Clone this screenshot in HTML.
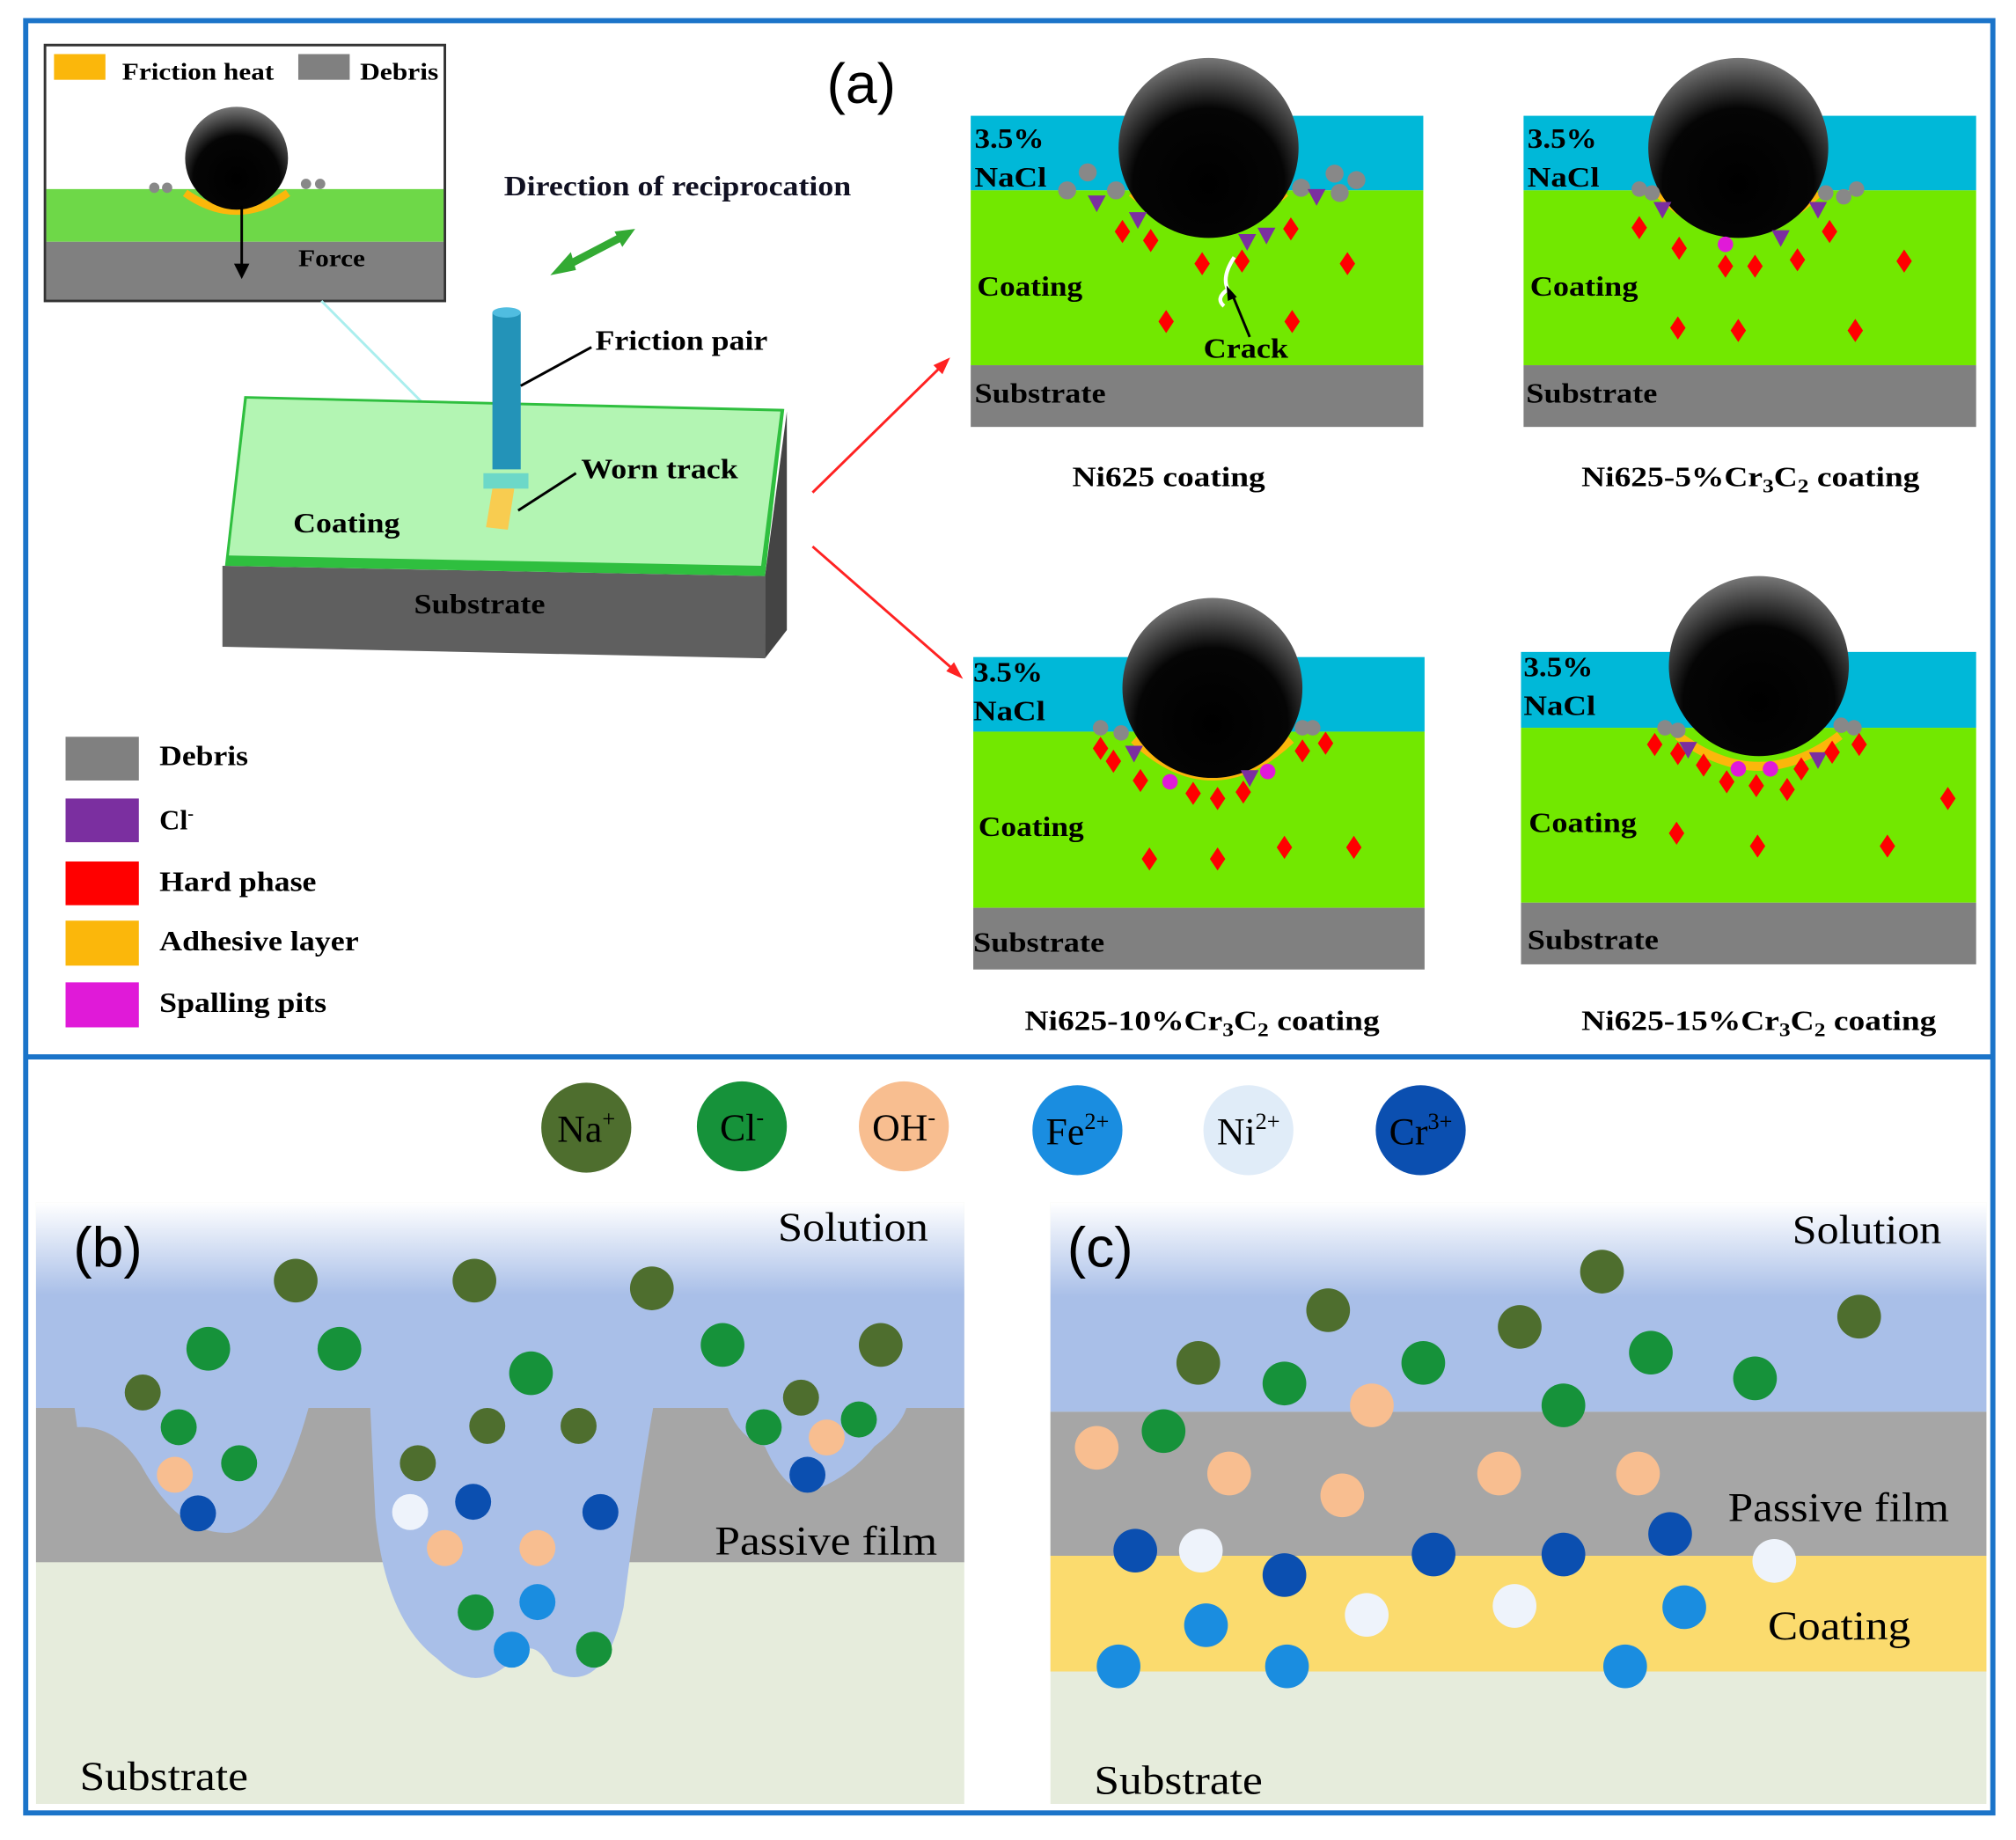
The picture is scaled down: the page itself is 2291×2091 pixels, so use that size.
<!DOCTYPE html>
<html><head><meta charset="utf-8"><style>html,body{margin:0;padding:0;background:#fff}svg{display:block}</style></head>
<body>
<svg width="2291" height="2091" viewBox="0 0 1568 1431" xmlns="http://www.w3.org/2000/svg" font-family="Liberation Serif, serif">
<defs>
<radialGradient id="ball" cx="0.5" cy="0.7" r="0.7"><stop offset="0" stop-color="#000"/><stop offset="0.6" stop-color="#050505"/><stop offset="1" stop-color="#777"/></radialGradient>
<linearGradient id="sol" x1="0" y1="0" x2="0" y2="1"><stop offset="0" stop-color="#fff"/><stop offset="0.45" stop-color="#a9bfe8"/><stop offset="1" stop-color="#a9bfe8"/></linearGradient>
<path id="dm" d="M0,-9 L6,0 L0,9 L-6,0Z" fill="#f00"/>
<path id="tri" d="M-7,-5 L7,-5 L0,8Z" fill="#7b2fa0"/>
</defs>
<rect width="1568" height="1431" fill="#fff"/>
<rect x="20" y="16" width="1530" height="1394" fill="none" stroke="#1b74c9" stroke-width="4"/>
<line x1="20" y1="822" x2="1550" y2="822" stroke="#1b74c9" stroke-width="4"/>

<!-- inset -->
<rect x="35" y="35" width="311" height="199" fill="#fff" stroke="#333" stroke-width="2"/>
<rect x="36" y="147" width="309" height="41" fill="#6ed848"/>
<rect x="36" y="188" width="309" height="45" fill="#808080"/>
<rect x="42" y="42" width="40" height="20" fill="#fbb70b"/>
<text x="95" y="62" font-size="19" font-weight="bold" textLength="118" lengthAdjust="spacingAndGlyphs">Friction heat</text>
<rect x="232" y="42" width="40" height="20" fill="#808080"/>
<text x="280" y="62" font-size="19" font-weight="bold" textLength="61" lengthAdjust="spacingAndGlyphs">Debris</text>
<path d="M144,150 Q184,178 224,150" stroke="#fbb70b" stroke-width="6" fill="none"/>
<circle cx="184" cy="123" r="40" fill="url(#ball)"/>
<circle cx="120" cy="146" r="4" fill="#888"/><circle cx="130" cy="146" r="4" fill="#888"/><circle cx="238" cy="143" r="4" fill="#888"/><circle cx="249" cy="143" r="4" fill="#888"/>
<line x1="188" y1="160" x2="188" y2="210" stroke="#000" stroke-width="2"/><path d="M182,205 L188,217 L194,205Z"/>
<text x="232" y="207" font-size="19" font-weight="bold" textLength="52" lengthAdjust="spacingAndGlyphs">Force</text>
<line x1="250" y1="234" x2="385" y2="370" stroke="#aee" stroke-width="2"/>

<text x="643" y="80" font-size="44" font-family="Liberation Sans, sans-serif">(a)</text>
<text x="392" y="152" font-size="22" font-weight="bold" fill="#112" textLength="270" lengthAdjust="spacingAndGlyphs">Direction of reciprocation</text>
<g stroke="#3a3" stroke-width="6"><line x1="438" y1="208" x2="484" y2="184"/></g>
<path d="M428,214 L444,196 L448,210Z M494,178 L478,180 L484,192Z" fill="#3a3"/>

<!-- block -->
<polygon points="173,440 595,448 595,512 173,503" fill="#5f5f5f"/>
<polygon points="595,448 612,320 612,490 595,512" fill="#444"/>
<polygon points="190,308 610,318 595,448 175,440" fill="#2fbf3f"/>
<polygon points="192,310 607,320 592,440 178,432" fill="#b3f5b3"/>
<rect x="383" y="243" width="22" height="122" fill="#2393b8"/>
<ellipse cx="394" cy="243" rx="11" ry="4" fill="#50bde0"/>
<rect x="376" y="368" width="35" height="12" fill="#6cd8c8"/>
<polygon points="383,380 400,380 395,412 378,410" fill="#f8cc50"/>
<text x="228" y="414" font-size="22" font-weight="bold" textLength="83" lengthAdjust="spacingAndGlyphs">Coating</text>
<text x="322" y="477" font-size="22" font-weight="bold" textLength="102" lengthAdjust="spacingAndGlyphs">Substrate</text>
<text x="463" y="272" font-size="22" font-weight="bold" textLength="134" lengthAdjust="spacingAndGlyphs">Friction pair</text>
<text x="452" y="372" font-size="22" font-weight="bold" textLength="122" lengthAdjust="spacingAndGlyphs">Worn track</text>
<line x1="460" y1="270" x2="405" y2="300" stroke="#000" stroke-width="2"/>
<line x1="448" y1="368" x2="403" y2="397" stroke="#000" stroke-width="2"/>
<g stroke="#f22" stroke-width="2"><line x1="632" y1="383" x2="733" y2="284"/><line x1="632" y1="425" x2="743" y2="522"/></g>
<path d="M739,278 L726,284 L733,291Z M749,528 L736,522 L742,515Z" fill="#f22"/>

<!-- sub panel 1 -->
<g>
<rect x="755" y="90" width="352" height="58" fill="#00b8d8"/><rect x="755" y="148" width="352" height="136" fill="#72e800"/><rect x="755" y="284" width="352" height="48" fill="#808080"/>
<path d="M880,150 Q940,200 1000,150" stroke="#fbb70b" stroke-width="6" fill="none"/>
<circle cx="940" cy="115" r="70" fill="url(#ball)"/>
<g fill="#888"><circle cx="830" cy="148" r="7"/><circle cx="846" cy="134" r="7"/><circle cx="868" cy="148" r="7"/><circle cx="1012" cy="146" r="7"/><circle cx="1038" cy="135" r="7"/><circle cx="1055" cy="140" r="7"/><circle cx="1042" cy="150" r="7"/></g>
<use href="#tri" x="853" y="157"/><use href="#tri" x="885" y="170"/><use href="#tri" x="970" y="187"/><use href="#tri" x="985" y="182"/><use href="#tri" x="1024" y="152"/>
<use href="#dm" x="873" y="180"/><use href="#dm" x="895" y="187"/><use href="#dm" x="935" y="205"/><use href="#dm" x="966" y="203"/><use href="#dm" x="1004" y="178"/><use href="#dm" x="1048" y="205"/><use href="#dm" x="907" y="250"/><use href="#dm" x="1005" y="250"/>
<path d="M960,200 Q950,215 955,225 Q945,232 952,238" stroke="#fff" stroke-width="3" fill="none"/>
<line x1="972" y1="262" x2="958" y2="228" stroke="#000" stroke-width="2"/><path d="M954,222 L955,234 L962,231Z"/>
<text x="758" y="115" font-size="22" font-weight="bold" textLength="54" lengthAdjust="spacingAndGlyphs">3.5%</text><text x="758" y="145" font-size="22" font-weight="bold" textLength="56" lengthAdjust="spacingAndGlyphs">NaCl</text>
<text x="760" y="230" font-size="22" font-weight="bold" textLength="82" lengthAdjust="spacingAndGlyphs">Coating</text><text x="936" y="278" font-size="22" font-weight="bold" textLength="66" lengthAdjust="spacingAndGlyphs">Crack</text>
<text x="758" y="313" font-size="22" font-weight="bold" textLength="102" lengthAdjust="spacingAndGlyphs">Substrate</text>
</g>
<text x="834" y="378" font-size="22" font-weight="bold" textLength="150" lengthAdjust="spacingAndGlyphs">Ni625 coating</text>

<!-- sub panel 2 -->
<g>
<rect x="1185" y="90" width="352" height="58" fill="#00b8d8"/><rect x="1185" y="148" width="352" height="136" fill="#72e800"/><rect x="1185" y="284" width="352" height="48" fill="#808080"/>
<path d="M1290,150 Q1352,210 1414,150" stroke="#fbb70b" stroke-width="7" fill="none"/>
<circle cx="1352" cy="115" r="70" fill="url(#ball)"/>
<g fill="#888"><circle cx="1275" cy="147" r="6"/><circle cx="1285" cy="150" r="6"/><circle cx="1420" cy="150" r="6"/><circle cx="1434" cy="153" r="6"/><circle cx="1444" cy="147" r="6"/></g>
<use href="#tri" x="1293" y="162"/><use href="#tri" x="1385" y="184"/><use href="#tri" x="1414" y="162"/>
<circle cx="1342" cy="190" r="6" fill="#e01ad8"/>
<use href="#dm" x="1275" y="177"/><use href="#dm" x="1306" y="193"/><use href="#dm" x="1342" y="207"/><use href="#dm" x="1365" y="207"/><use href="#dm" x="1398" y="202"/><use href="#dm" x="1423" y="180"/><use href="#dm" x="1481" y="203"/><use href="#dm" x="1305" y="255"/><use href="#dm" x="1352" y="257"/><use href="#dm" x="1443" y="257"/>
<text x="1188" y="115" font-size="22" font-weight="bold" textLength="54" lengthAdjust="spacingAndGlyphs">3.5%</text><text x="1188" y="145" font-size="22" font-weight="bold" textLength="56" lengthAdjust="spacingAndGlyphs">NaCl</text>
<text x="1190" y="230" font-size="22" font-weight="bold" textLength="84" lengthAdjust="spacingAndGlyphs">Coating</text>
<text x="1187" y="313" font-size="22" font-weight="bold" textLength="102" lengthAdjust="spacingAndGlyphs">Substrate</text>
</g>
<text x="1230" y="378" font-size="22" font-weight="bold" textLength="263" lengthAdjust="spacingAndGlyphs">Ni625-5%Cr<tspan font-size="15" dy="5">3</tspan><tspan dy="-5">C</tspan><tspan font-size="15" dy="5">2</tspan><tspan dy="-5"> coating</tspan></text>

<!-- sub panel 3 -->
<g>
<rect x="757" y="511" width="351" height="58" fill="#00b8d8"/><rect x="757" y="569" width="351" height="137" fill="#72e800"/><rect x="757" y="706" width="351" height="48" fill="#808080"/>
<path d="M882,575 Q943,632 1004,575" stroke="#fbb70b" stroke-width="7" fill="none"/>
<circle cx="943" cy="535" r="70" fill="url(#ball)"/>
<g fill="#888"><circle cx="856" cy="566" r="6"/><circle cx="872" cy="570" r="6"/><circle cx="1013" cy="566" r="6"/><circle cx="1021" cy="566" r="6"/></g>
<use href="#tri" x="882" y="585"/><use href="#tri" x="972" y="604"/>
<circle cx="910" cy="608" r="6" fill="#e01ad8"/><circle cx="986" cy="600" r="6" fill="#e01ad8"/>
<use href="#dm" x="856" y="582"/><use href="#dm" x="866" y="592"/><use href="#dm" x="887" y="607"/><use href="#dm" x="928" y="617"/><use href="#dm" x="947" y="621"/><use href="#dm" x="967" y="616"/><use href="#dm" x="1013" y="584"/><use href="#dm" x="1031" y="578"/><use href="#dm" x="894" y="668"/><use href="#dm" x="947" y="668"/><use href="#dm" x="999" y="659"/><use href="#dm" x="1053" y="659"/>
<text x="757" y="530" font-size="22" font-weight="bold" textLength="54" lengthAdjust="spacingAndGlyphs">3.5%</text><text x="757" y="560" font-size="22" font-weight="bold" textLength="56" lengthAdjust="spacingAndGlyphs">NaCl</text>
<text x="761" y="650" font-size="22" font-weight="bold" textLength="82" lengthAdjust="spacingAndGlyphs">Coating</text>
<text x="757" y="740" font-size="22" font-weight="bold" textLength="102" lengthAdjust="spacingAndGlyphs">Substrate</text>
</g>
<text x="797" y="801" font-size="22" font-weight="bold" textLength="276" lengthAdjust="spacingAndGlyphs">Ni625-10%Cr<tspan font-size="15" dy="5">3</tspan><tspan dy="-5">C</tspan><tspan font-size="15" dy="5">2</tspan><tspan dy="-5"> coating</tspan></text>

<!-- sub panel 4 -->
<g>
<rect x="1183" y="507" width="354" height="59" fill="#00b8d8"/><rect x="1183" y="566" width="354" height="136" fill="#72e800"/><rect x="1183" y="702" width="354" height="48" fill="#808080"/>
<path d="M1305,572 Q1368,620 1431,572" stroke="#fbb70b" stroke-width="7" fill="none"/>
<circle cx="1368" cy="518" r="70" fill="url(#ball)"/>
<g fill="#888"><circle cx="1295" cy="566" r="6"/><circle cx="1305" cy="568" r="6"/><circle cx="1432" cy="564" r="6"/><circle cx="1442" cy="566" r="6"/></g>
<use href="#tri" x="1313" y="582"/><use href="#tri" x="1414" y="590"/>
<circle cx="1352" cy="598" r="6" fill="#e01ad8"/><circle cx="1377" cy="598" r="6" fill="#e01ad8"/>
<use href="#dm" x="1287" y="579"/><use href="#dm" x="1305" y="586"/><use href="#dm" x="1325" y="595"/><use href="#dm" x="1343" y="608"/><use href="#dm" x="1366" y="611"/><use href="#dm" x="1390" y="614"/><use href="#dm" x="1401" y="598"/><use href="#dm" x="1425" y="585"/><use href="#dm" x="1446" y="579"/><use href="#dm" x="1515" y="621"/><use href="#dm" x="1304" y="648"/><use href="#dm" x="1367" y="658"/><use href="#dm" x="1468" y="658"/>
<text x="1185" y="526" font-size="22" font-weight="bold" textLength="54" lengthAdjust="spacingAndGlyphs">3.5%</text><text x="1185" y="556" font-size="22" font-weight="bold" textLength="56" lengthAdjust="spacingAndGlyphs">NaCl</text>
<text x="1189" y="647" font-size="22" font-weight="bold" textLength="84" lengthAdjust="spacingAndGlyphs">Coating</text>
<text x="1188" y="738" font-size="22" font-weight="bold" textLength="102" lengthAdjust="spacingAndGlyphs">Substrate</text>
</g>
<text x="1230" y="801" font-size="22" font-weight="bold" textLength="276" lengthAdjust="spacingAndGlyphs">Ni625-15%Cr<tspan font-size="15" dy="5">3</tspan><tspan dy="-5">C</tspan><tspan font-size="15" dy="5">2</tspan><tspan dy="-5"> coating</tspan></text>

<!-- legend -->
<rect x="51" y="573" width="57" height="34" fill="#808080"/><text x="124" y="595" font-size="22" font-weight="bold" textLength="69" lengthAdjust="spacingAndGlyphs">Debris</text>
<rect x="51" y="621" width="57" height="34" fill="#7b2fa0"/><text x="124" y="645" font-size="22" font-weight="bold">Cl<tspan font-size="14" dy="-8">-</tspan></text>
<rect x="51" y="670" width="57" height="34" fill="#f00"/><text x="124" y="693" font-size="22" font-weight="bold" textLength="122" lengthAdjust="spacingAndGlyphs">Hard phase</text>
<rect x="51" y="716" width="57" height="35" fill="#fbb70b"/><text x="124" y="739" font-size="22" font-weight="bold" textLength="155" lengthAdjust="spacingAndGlyphs">Adhesive layer</text>
<rect x="51" y="764" width="57" height="35" fill="#e01ad8"/><text x="124" y="787" font-size="22" font-weight="bold" textLength="130" lengthAdjust="spacingAndGlyphs">Spalling pits</text>

<!-- ion legend -->
<g font-size="30" text-anchor="middle">
<circle cx="456" cy="877" r="35" fill="#4e6e2e"/><text x="456" y="888">Na<tspan font-size="18" dy="-12">+</tspan></text>
<circle cx="577" cy="876" r="35" fill="#16923a"/><text x="577" y="887">Cl<tspan font-size="18" dy="-12">-</tspan></text>
<circle cx="703" cy="876" r="35" fill="#f8be90"/><text x="703" y="887">OH<tspan font-size="18" dy="-12">-</tspan></text>
<circle cx="838" cy="879" r="35" fill="#1a8de0"/><text x="838" y="890">Fe<tspan font-size="18" dy="-12">2+</tspan></text>
<circle cx="971" cy="879" r="35" fill="#e0ecf8"/><text x="971" y="890">Ni<tspan font-size="18" dy="-12">2+</tspan></text>
<circle cx="1105" cy="879" r="35" fill="#0b4fb0"/><text x="1105" y="890">Cr<tspan font-size="18" dy="-12">3+</tspan></text>
</g>

<!-- panel b -->
<rect x="28" y="935" width="722" height="468" fill="#e6ecdc"/>
<rect x="28" y="935" width="722" height="160" fill="url(#sol)"/>
<rect x="28" y="1095" width="722" height="120" fill="#a6a6a6"/>
<path d="M58,1095 L60,1110 Q90,1108 110,1140 Q140,1195 180,1192 Q215,1185 240,1095Z" fill="#a9bfe8"/>
<path d="M288,1095 L292,1180 Q300,1260 340,1290 Q370,1320 400,1290 Q415,1270 430,1300 Q470,1320 485,1250 Q495,1170 508,1095Z" fill="#a9bfe8"/>
<path d="M566,1095 Q575,1118 595,1125 Q610,1160 630,1160 Q660,1150 680,1125 Q700,1110 705,1095Z" fill="#a9bfe8"/>
<g>
<g fill="#4e6e2e"><circle cx="230" cy="996" r="17"/><circle cx="369" cy="996" r="17"/><circle cx="507" cy="1002" r="17"/><circle cx="111" cy="1083" r="14"/><circle cx="685" cy="1046" r="17"/><circle cx="623" cy="1087" r="14"/><circle cx="379" cy="1109" r="14"/><circle cx="450" cy="1109" r="14"/><circle cx="325" cy="1138" r="14"/></g>
<g fill="#16923a"><circle cx="162" cy="1049" r="17"/><circle cx="264" cy="1049" r="17"/><circle cx="413" cy="1068" r="17"/><circle cx="562" cy="1046" r="17"/><circle cx="139" cy="1110" r="14"/><circle cx="186" cy="1138" r="14"/><circle cx="594" cy="1110" r="14"/><circle cx="668" cy="1104" r="14"/><circle cx="370" cy="1254" r="14"/><circle cx="462" cy="1283" r="14"/></g>
<g fill="#f8be90"><circle cx="136" cy="1147" r="14"/><circle cx="643" cy="1118" r="14"/><circle cx="346" cy="1204" r="14"/><circle cx="418" cy="1204" r="14"/></g>
<g fill="#0b4fb0"><circle cx="154" cy="1177" r="14"/><circle cx="628" cy="1147" r="14"/><circle cx="368" cy="1168" r="14"/><circle cx="467" cy="1176" r="14"/></g>
<g fill="#1a8de0"><circle cx="418" cy="1246" r="14"/><circle cx="398" cy="1283" r="14"/></g>
<circle cx="319" cy="1176" r="14" fill="#eef3fb"/>
</g>
<text x="57" y="985" font-size="44" font-family="Liberation Sans, sans-serif">(b)</text>
<text x="605" y="965" font-size="32" textLength="117" lengthAdjust="spacingAndGlyphs">Solution</text>
<text x="556" y="1209" font-size="32" textLength="173" lengthAdjust="spacingAndGlyphs">Passive film</text>
<text x="62" y="1392" font-size="32" textLength="131" lengthAdjust="spacingAndGlyphs">Substrate</text>

<!-- panel c -->
<rect x="817" y="935" width="728" height="468" fill="#e6ecdc"/>
<rect x="817" y="935" width="728" height="163" fill="url(#sol)"/>
<rect x="817" y="1098" width="728" height="112" fill="#a6a6a6"/>
<rect x="817" y="1210" width="728" height="90" fill="#fbdb6e"/>
<g fill="#4e6e2e"><circle cx="1033" cy="1019" r="17"/><circle cx="1246" cy="989" r="17"/><circle cx="1446" cy="1024" r="17"/><circle cx="932" cy="1060" r="17"/><circle cx="1182" cy="1032" r="17"/></g>
<g fill="#16923a"><circle cx="999" cy="1076" r="17"/><circle cx="1107" cy="1060" r="17"/><circle cx="1284" cy="1052" r="17"/><circle cx="1365" cy="1072" r="17"/><circle cx="905" cy="1113" r="17"/><circle cx="1216" cy="1093" r="17"/></g>
<g fill="#f8be90"><circle cx="853" cy="1126" r="17"/><circle cx="1067" cy="1093" r="17"/><circle cx="956" cy="1146" r="17"/><circle cx="1044" cy="1163" r="17"/><circle cx="1166" cy="1146" r="17"/><circle cx="1274" cy="1146" r="17"/></g>
<g fill="#0b4fb0"><circle cx="883" cy="1206" r="17"/><circle cx="999" cy="1225" r="17"/><circle cx="1115" cy="1209" r="17"/><circle cx="1216" cy="1209" r="17"/><circle cx="1299" cy="1193" r="17"/></g>
<g fill="#eef3fb"><circle cx="934" cy="1206" r="17"/><circle cx="1063" cy="1256" r="17"/><circle cx="1178" cy="1249" r="17"/><circle cx="1380" cy="1214" r="17"/></g>
<g fill="#1a8de0"><circle cx="938" cy="1264" r="17"/><circle cx="870" cy="1296" r="17"/><circle cx="1001" cy="1296" r="17"/><circle cx="1264" cy="1296" r="17"/><circle cx="1310" cy="1250" r="17"/></g>
<text x="830" y="985" font-size="44" font-family="Liberation Sans, sans-serif">(c)</text>
<text x="1394" y="967" font-size="32" textLength="116" lengthAdjust="spacingAndGlyphs">Solution</text>
<text x="1344" y="1183" font-size="32" textLength="172" lengthAdjust="spacingAndGlyphs">Passive film</text>
<text x="1375" y="1275" font-size="32" textLength="111" lengthAdjust="spacingAndGlyphs">Coating</text>
<text x="851" y="1395" font-size="32" textLength="131" lengthAdjust="spacingAndGlyphs">Substrate</text>
</svg>
</body></html>
